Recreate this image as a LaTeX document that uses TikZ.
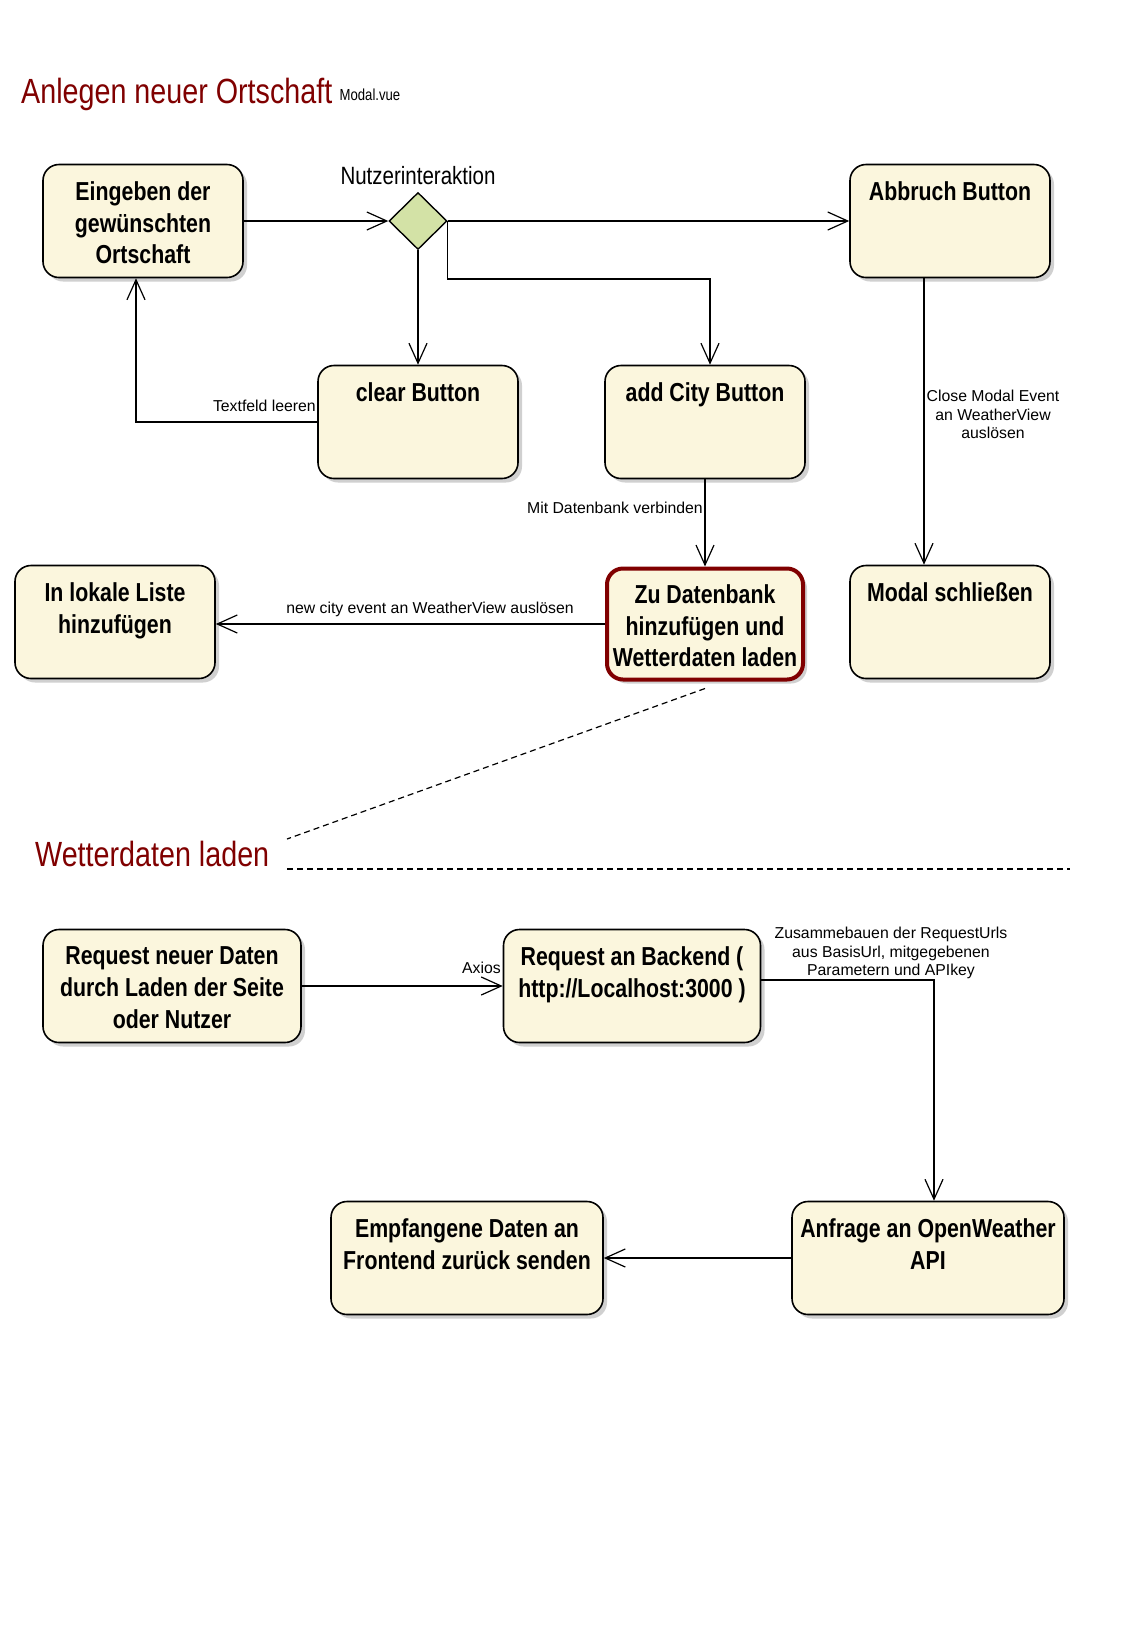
\documentclass[tikz,border=0pt]{standalone}
\usepackage{fontspec}
\usepackage{tikz}
\usetikzlibrary{arrows.meta,positioning,shapes.geometric,shadows}
\setmainfont{Liberation Sans}
\newfontfamily\narrowfont{Liberation Sans}[FakeStretch=0.82]
\definecolor{actfill}{RGB}{251,246,221}
\definecolor{decfill}{RGB}{211,226,166}
\definecolor{titlered}{RGB}{128,0,0}
\tikzset{
 actbox/.style={
 rectangle,
 rounded corners=16pt,
 draw=black,
 fill=actfill,
 line width=1.6pt,
 minimum width=200pt,
 minimum height=113pt,
 drop shadow={shadow xshift=4pt, shadow yshift=-4pt, fill=black!30, opacity=0.6}
 },
 zubox/.style={
 actbox,
 draw=titlered,
 line width=4pt,
 minimum width=196pt,
 minimum height=111pt
 },
 acttext/.style={
 anchor=north,
 inner sep=0pt,
 yshift=-18pt,
 align=center,
 font=\narrowfont\bfseries\fontsize{26}{31.6}\selectfont
 },
 decision/.style={
 diamond,
 draw=black,
 fill=decfill,
 line width=1.4pt,
 minimum width=58pt,
 minimum height=57pt,
 inner sep=0pt
 },
 sectiontitle/.style={
 anchor=base west,
 inner sep=0pt,
 text=titlered,
 font=\narrowfont\fontsize{35}{40}\selectfont
 },
 choicetext/.style={
 inner sep=0pt,
 font=\narrowfont\fontsize{25}{30}\selectfont
 },
 filetext/.style={
 inner sep=0pt,
 font=\narrowfont\fontsize{16}{19}\selectfont
 },
 edgelabel/.style={
 inner sep=0pt,
 align=center,
 font=\fontsize{15.8}{18.4}\selectfont
 },
 flowarrow/.style={-{Straight Barb[length=20pt,width=18pt]}, line width=1.2pt},
 noteline/.style={line width=1.2pt, dash pattern=on 6pt off 4pt}
}

\begin{document}
\begin{tikzpicture}[x=1pt, y=-1pt]
 \useasboundingbox[fill=white] (0,0) rectangle (1148,1650);

 % Anlegen neuer Ortschaft
 \node[sectiontitle] (title1) at (21,103) {Anlegen neuer Ortschaft};
 \node[filetext, right=7pt of title1.base east, anchor=base west, yshift=3pt] (modalfile) {Modal.vue};

 \node[actbox, label={[acttext]north:{Eingeben der\\gewünschten\\Ortschaft}}] (input) at (143,221) {};
 \node[decision] (choice) at (418,221) {};
 \node[choicetext, above=7pt of choice] (choicelabel) {Nutzerinteraktion};
 \node[actbox, label={[acttext]north:Abbruch Button}] (cancel) at (950,221) {};
 \node[actbox, label={[acttext]north:clear Button}] (clear) at (418,422) {};
 \node[actbox, label={[acttext]north:add City Button}] (addcity) at (705,422) {};
 \node[actbox, label={[acttext]north:{In lokale Liste\\hinzufügen}}] (locallist) at (115,622) {};
 \node[zubox, label={[acttext]north:{Zu Datenbank\\hinzufügen und\\Wetterdaten laden}}] (dbload) at (705,624) {};
 \node[actbox, label={[acttext]north:Modal schließen}] (closemodal) at (950,622) {};

 \draw[flowarrow] (input) -- (choice);
 \draw[flowarrow] (choice) -- (cancel);
 \draw[flowarrow] (choice) -- (clear);
 \draw[flowarrow] (choice.east) -- ++(0,58) -| ([xshift=5pt]addcity.north);
 \draw[flowarrow] (clear.west) -| ([xshift=-7pt]input.south);
 \draw[flowarrow] (addcity) -- (dbload);
 \draw[flowarrow] (dbload.west) -- (dbload.west -| locallist.east);
 \draw[flowarrow] ([xshift=-26pt]cancel.south) -- ([xshift=-26pt]closemodal.north);

 \node[edgelabel, anchor=base east] (clearlabel) at (316,411) {Textfeld leeren};
 \node[edgelabel, anchor=base east] (dblabel) at (703,513) {Mit Datenbank verbinden};
 \node[edgelabel, anchor=base] (citylabel) at (430,613) {new city event an WeatherView auslösen};
 \node[edgelabel, anchor=north] (closelabel) at (993,390) {Close Modal Event\\an WeatherView\\auslösen};

 % Wetterdaten laden
 \coordinate (notetip) at (287,839);
 \coordinate (sepstart) at (287,869);
 \coordinate (sepend) at (1070,869);
 \draw[noteline] ([yshift=-7pt]dbload.south) -- (notetip);
 \draw[noteline] (sepstart) -- (sepend);
 \node[sectiontitle] (title2) at (35,866) {Wetterdaten laden};

 \node[actbox, minimum width=258pt, label={[acttext]north:{Request neuer Daten\\durch Laden der Seite\\oder Nutzer}}] (request) at (172,986) {};
 \node[actbox, minimum width=257pt, label={[acttext]north:{Request an Backend (\\http://Localhost:3000 )}}] (backend) at (632,986) {};
 \node[actbox, minimum width=272pt, label={[acttext]north:{Anfrage an OpenWeather\\API}}] (openweather) at (928,1258) {};
 \node[actbox, minimum width=272pt, label={[acttext]north:{Empfangene Daten an\\Frontend zurück senden}}] (sendback) at (467,1258) {};

 \draw[flowarrow] (request) -- (backend);
 \draw[flowarrow] ([yshift=6pt]backend.east) -| ([xshift=6pt]openweather.north);
 \draw[flowarrow] (openweather) -- (sendback);

 \node[edgelabel, anchor=base east] (axioslabel) at (501,973) {Axios};
 \node[edgelabel, anchor=north] (urllabel) at (891,927) {Zusammebauen der RequestUrls\\aus BasisUrl, mitgegebenen\\Parametern und APIkey};
\end{tikzpicture}
\end{document}
